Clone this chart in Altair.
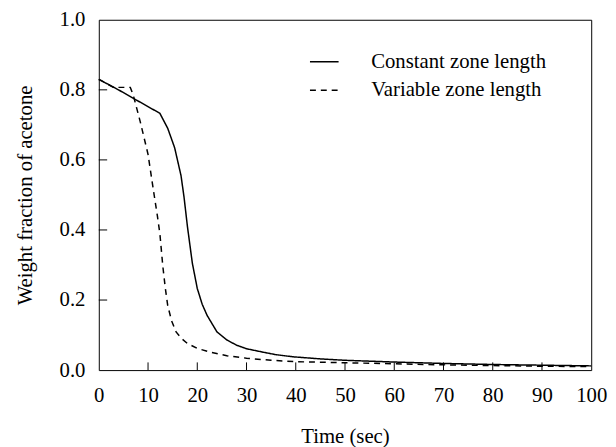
import altair as alt
import pandas as pd

t_const = [0, 4, 8, 12.4, 14, 15.4, 16.7, 17.3, 18, 19, 20, 21, 22, 24, 26, 28, 30, 33.4, 36, 39.4, 45, 50, 60, 70, 80, 90, 100]
w_const = [0.830, 0.800, 0.768, 0.733, 0.690, 0.635, 0.555, 0.495, 0.410, 0.305, 0.233, 0.188, 0.156, 0.109, 0.086,
           0.071, 0.061, 0.051, 0.044, 0.038, 0.032, 0.028, 0.023, 0.019, 0.016, 0.014, 0.012]

t_var = [0, 3, 6.4, 7, 8.4, 10, 11, 11.9, 12.4, 13, 13.5, 14, 14.8, 15.7, 16.8, 18, 20, 22.7, 26, 30, 35, 40, 50, 60,
         70, 80, 90, 100]
w_var = [0.830, 0.807, 0.807, 0.785, 0.710, 0.616, 0.522, 0.440, 0.390, 0.297, 0.235, 0.184, 0.140, 0.109, 0.090,
         0.076, 0.062, 0.051, 0.041, 0.034, 0.028, 0.024, 0.021, 0.018, 0.015, 0.013, 0.011, 0.010]

series = ["Constant zone length", "Variable zone length"]
x_ticks = [10, 20, 30, 40, 50, 60, 70, 80, 90]
y_ticks = [0.2, 0.4, 0.6, 0.8]

df = pd.concat([
    pd.DataFrame({"t": t_const, "w": w_const, "s": series[0]}),
    pd.DataFrame({"t": t_var, "w": w_var, "s": series[1]}),
])

FONT = "Liberation Serif"
FS = 21
xs = alt.Scale(domain=[0, 100], nice=False, zero=False)
ys = alt.Scale(domain=[0, 1.0], nice=False)


def leg():
    return alt.Legend(title=None, orient="none", legendX=213, legendY=27,
                      symbolType="stroke", symbolSize=841, symbolStrokeWidth=1.5,
                      labelFont=FONT, labelFontSize=FS, labelOffset=32, labelLimit=0,
                      labelColor="black", rowPadding=3, padding=0)


lines = alt.Chart(df).mark_line(strokeWidth=1.5).encode(
    x=alt.X("t:Q", scale=xs, title="Time (sec)",
            axis=alt.Axis(values=list(range(0, 101, 10)), ticks=False, domain=False, grid=False,
                          labelFlush=False, labelPadding=15, titlePadding=20)),
    y=alt.Y("w:Q", scale=ys, title="Weight fraction of acetone",
            axis=alt.Axis(values=[0, 0.2, 0.4, 0.6, 0.8, 1.0], format=".1f", ticks=False, domain=False,
                          grid=False, labelFlush=False, labelPadding=14, titlePadding=24)),
    color=alt.Color("s:N", scale=alt.Scale(domain=series, range=["black", "black"]), legend=leg()),
    strokeDash=alt.StrokeDash("s:N", scale=alt.Scale(domain=series, range=[[1, 0], [6, 5]]), legend=leg()),
)

xt = alt.Chart(pd.DataFrame({"v": x_ticks})).mark_rule(color="black", strokeWidth=1).encode(
    x=alt.X("v:Q", scale=xs), y=alt.datum(0), y2=alt.datum(0.022))
yt = alt.Chart(pd.DataFrame({"v": y_ticks})).mark_rule(color="black", strokeWidth=1).encode(
    y=alt.Y("v:Q", scale=ys), x=alt.datum(0), x2=alt.datum(1.7))

chart = alt.layer(lines, xt, yt).properties(
    width=499, height=355, background="white",
    autosize=alt.AutoSizeParams(type="none"),
    padding={"left": 92, "top": 9, "right": 17, "bottom": 75}
).configure_view(
    stroke="black", strokeWidth=1
).configure_axis(
    labelFont=FONT, labelFontSize=FS, titleFont=FONT, titleFontSize=FS,
    labelColor="black", titleColor="black", titleFontWeight="normal"
)

chart.save("out.html", embed_options={"renderer": "svg", "actions": False})
